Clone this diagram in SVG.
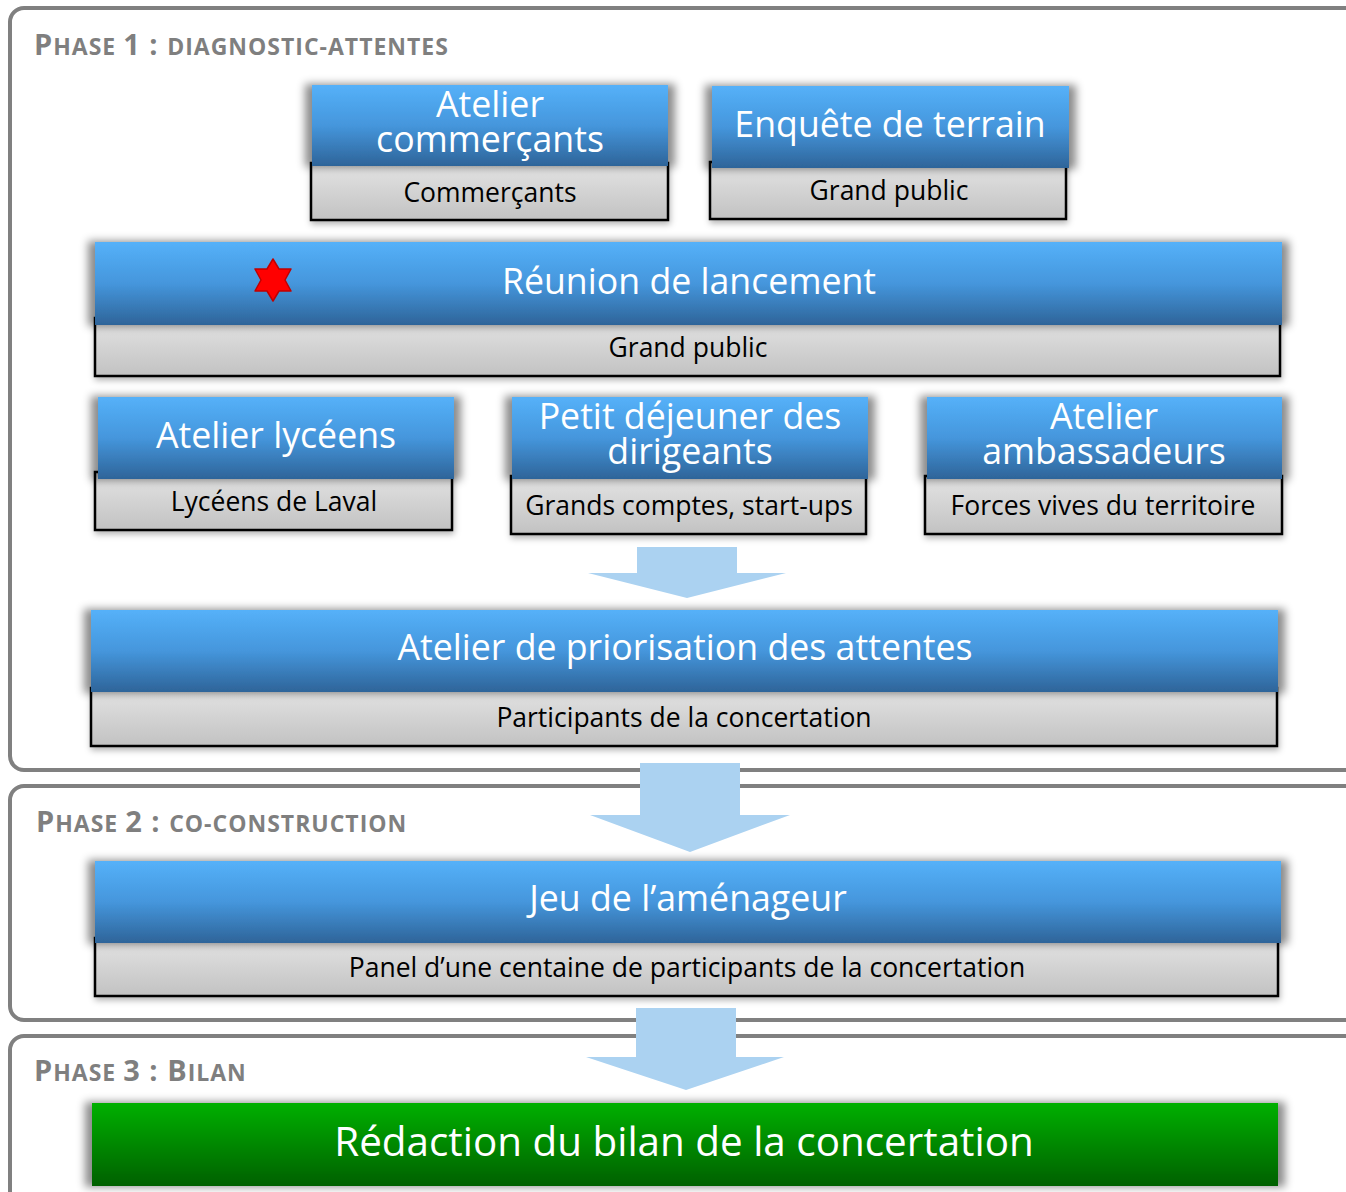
<svg xmlns="http://www.w3.org/2000/svg" width="1346" height="1192" viewBox="0 0 1346 1192">
<defs>
<linearGradient id="gBlue" x1="0" y1="0" x2="0" y2="1">
<stop offset="0" stop-color="#55b1f9"/><stop offset="0.5" stop-color="#4596dc"/><stop offset="1" stop-color="#2e6499"/>
</linearGradient>
<linearGradient id="gGray" x1="0" y1="0" x2="0" y2="1">
<stop offset="0" stop-color="#e4e4e4"/><stop offset="1" stop-color="#c2c2c2"/>
</linearGradient>
<linearGradient id="gGreen" x1="0" y1="0" x2="0" y2="1">
<stop offset="0" stop-color="#00b000"/><stop offset="1" stop-color="#006000"/>
</linearGradient>
<filter id="sh" x="-10%" y="-30%" width="120%" height="160%">
<feMorphology in="SourceAlpha" operator="dilate" radius="7 1" result="d"/>
<feGaussianBlur in="d" stdDeviation="4" result="b"/>
<feFlood flood-color="#000" flood-opacity="0.45"/>
<feComposite in2="b" operator="in" result="s"/>
<feMerge><feMergeNode in="s"/><feMergeNode in="SourceGraphic"/></feMerge>
</filter>
<filter id="sh2" x="-10%" y="-30%" width="120%" height="160%">
<feGaussianBlur in="SourceAlpha" stdDeviation="3" result="b"/>
<feOffset in="b" dx="1" dy="3" result="o"/>
<feFlood flood-color="#000" flood-opacity="0.3"/>
<feComposite in2="o" operator="in" result="s"/>
<feMerge><feMergeNode in="s"/><feMergeNode in="SourceGraphic"/></feMerge>
</filter>
</defs>
<style>
.panel{fill:#fff;stroke:#808080;stroke-width:4}
.ph{font-family:"Open Sans","Liberation Sans",sans-serif;font-weight:bold;fill:#7f7f7f;letter-spacing:1px}
.blue{fill:url(#gBlue)}
.gray{fill:url(#gGray);stroke:#000;stroke-width:2.5}
.t{font-family:"Open Sans","Liberation Sans",sans-serif;fill:#fff;text-anchor:middle;font-size:35.7px}
.s{font-family:"Open Sans","Liberation Sans",sans-serif;fill:#000;text-anchor:middle;font-size:26.5px}
.arr{fill:#abd2f1}
</style>

<g id="panels">
<rect class="panel" x="10" y="8" width="1360" height="762" rx="14"/>
<rect class="panel" x="10" y="786" width="1360" height="234" rx="14"/>
<rect class="panel" x="10" y="1036" width="1360" height="180" rx="14"/>
<text class="ph" x="34" y="55"><tspan font-size="29">P</tspan><tspan font-size="23">HASE </tspan><tspan font-size="29">1 : </tspan><tspan font-size="23">DIAGNOSTIC-ATTENTES</tspan></text>
<text class="ph" x="36" y="832"><tspan font-size="29">P</tspan><tspan font-size="23">HASE </tspan><tspan font-size="29">2 : </tspan><tspan font-size="23">CO-CONSTRUCTION</tspan></text>
<text class="ph" x="34" y="1081"><tspan font-size="29">P</tspan><tspan font-size="23">HASE </tspan><tspan font-size="29">3 : B</tspan><tspan font-size="23">ILAN</tspan></text>
</g>

<g id="connectors">
<path class="arr" d="M637,547 H737 V573 H786 L687,598 L588,573 H637 Z"/>
<path class="arr" d="M640,763 H740 V815 H790 L690,852 L590,815 H640 Z"/>
<path class="arr" d="M636,1008 H736 V1057 H784 L686,1090 L586,1057 H636 Z"/>
</g>

<g id="n-atelier-commercants">
<rect class="gray" x="311" y="163" width="357" height="57" filter="url(#sh2)"/>
<rect class="blue" x="312" y="85" width="356" height="81" filter="url(#sh)"/>
<text class="t" x="490" y="117">Atelier</text>
<text class="t" x="490" y="152">commerçants</text>
<text class="s" x="490" y="202">Commerçants</text>
</g>

<g id="n-enquete">
<rect class="gray" x="710" y="162" width="356" height="57" filter="url(#sh2)"/>
<rect class="blue" x="712" y="86" width="357" height="82" filter="url(#sh)"/>
<text class="t" x="890" y="137">Enquête de terrain</text>
<text class="s" x="889" y="200">Grand public</text>
</g>

<g id="n-reunion">
<rect class="gray" x="95" y="318" width="1185" height="58" filter="url(#sh2)"/>
<rect class="blue" x="95" y="242" width="1187" height="83" filter="url(#sh)"/>
<polygon points="273,259 279,269 291,269 285,280 291,291 279,291 273,301 267,291 255,291 261,280 255,269 267,269" fill="#ff0000" stroke="#c00000" stroke-width="1.5" stroke-linejoin="round"/>
<text class="t" x="689" y="294">Réunion de lancement</text>
<text class="s" x="688" y="357">Grand public</text>
</g>

<g id="n-lyceens">
<rect class="gray" x="95" y="472" width="357" height="58" filter="url(#sh2)"/>
<rect class="blue" x="98" y="397" width="356" height="82" filter="url(#sh)"/>
<text class="t" x="276" y="448">Atelier lycéens</text>
<text class="s" x="274" y="511">Lycéens de Laval</text>
</g>

<g id="n-petit-dejeuner">
<rect class="gray" x="511" y="476" width="355" height="58" filter="url(#sh2)"/>
<rect class="blue" x="512" y="397" width="356" height="82" filter="url(#sh)"/>
<text class="t" x="690" y="429">Petit déjeuner des</text>
<text class="t" x="690" y="464">dirigeants</text>
<text class="s" x="689" y="515">Grands comptes, start-ups</text>
</g>

<g id="n-ambassadeurs">
<rect class="gray" x="925" y="476" width="357" height="58" filter="url(#sh2)"/>
<rect class="blue" x="927" y="397" width="355" height="82" filter="url(#sh)"/>
<text class="t" x="1104" y="429">Atelier</text>
<text class="t" x="1104" y="464">ambassadeurs</text>
<text class="s" x="1103" y="515">Forces vives du territoire</text>
</g>

<g id="n-priorisation">
<rect class="gray" x="91" y="688" width="1186" height="58" filter="url(#sh2)"/>
<rect class="blue" x="91" y="610" width="1187" height="82" filter="url(#sh)"/>
<text class="t" x="685" y="660">Atelier de priorisation des attentes</text>
<text class="s" x="684" y="727">Participants de la concertation</text>
</g>

<g id="n-jeu">
<rect class="gray" x="95" y="938" width="1183" height="58" filter="url(#sh2)"/>
<rect class="blue" x="95" y="861" width="1186" height="82" filter="url(#sh)"/>
<text class="t" x="688" y="911">Jeu de l’aménageur</text>
<text class="s" x="687" y="977">Panel d’une centaine de participants de la concertation</text>
</g>

<g id="n-redaction">
<rect fill="url(#gGreen)" x="92" y="1103" width="1186" height="83" filter="url(#sh)"/>
<text class="t" style="font-size:40.4px" x="684" y="1156">Rédaction du bilan de la concertation</text>
</g>
</svg>
